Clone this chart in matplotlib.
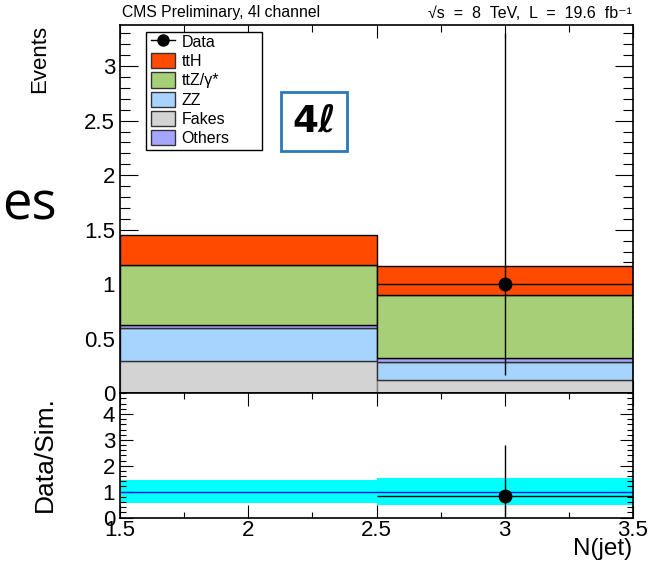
"""
Stacked N(jet) distribution for the 4l channel with Data/Sim. ratio panel
"""
import matplotlib
matplotlib.use('Agg')
import matplotlib.pyplot as plt
from matplotlib.patches import Patch, Rectangle
from matplotlib.lines import Line2D
from matplotlib.ticker import MultipleLocator
import numpy as np

plt.rcParams['font.family'] = ['Liberation Sans', 'DejaVu Sans']

# Bins in N(jet)
bin_lo = [1.5, 2.5]
bin_width = 1.0

# Stack contributions per bin (bottom to top)
fakes = [0.30, 0.12]
zz = [0.30, 0.17]
others = [0.03, 0.03]
ttz = [0.55, 0.58]
tth = [0.27, 0.27]

# Observed data
data_x = [3.0]
data_y = [1.0]
data_err_lo = [0.83]
data_err_hi = [2.30]

# Ratio panel
ratio_unc = [0.43, 0.52]
ratio_x = [3.0]
ratio_y = [0.85]
ratio_err_lo = [0.85]
ratio_err_hi = [1.95]

col_tth = '#ff4a00'
col_ttz = '#a6cf78'
col_zz = '#a6d4ff'
col_fakes = '#d3d3d3'
col_others = '#a6a6ff'

W, H = 664, 561
fig = plt.figure(figsize=(W / 100, H / 100), dpi=100)
ax1 = fig.add_axes([120 / W, 1 - 393.3 / H, 513 / W, 368.6 / H])
ax2 = fig.add_axes([120 / W, 1 - 517.5 / H, 513 / W, 124.2 / H])

# stacked histogram
bottom = np.zeros(len(bin_lo))
stack = [(fakes, col_fakes, '#808080'), (zz, col_zz, '#303030'),
         (others, col_others, '#303030'), (ttz, col_ttz, 'black'),
         (tth, col_tth, 'black')]
for vals, col, ec in stack:
    ax1.bar(bin_lo, vals, width=bin_width, bottom=bottom, align='edge',
            color=col, edgecolor=ec, linewidth=1.0, zorder=2)
    bottom = bottom + np.array(vals)

ax1.errorbar(data_x, data_y, yerr=[data_err_lo, data_err_hi], xerr=0.5,
             fmt='o', color='black', markersize=9, elinewidth=1.0,
             capsize=0, zorder=5, clip_on=True)

ax1.set_xlim(1.5, 3.5)
ax1.set_ylim(0, 3.38)
ax1.xaxis.set_major_locator(MultipleLocator(0.5))
ax1.xaxis.set_minor_locator(MultipleLocator(0.25))
ax1.yaxis.set_major_locator(MultipleLocator(0.5))
ax1.yaxis.set_minor_locator(MultipleLocator(0.1))
ax1.tick_params(axis='both', which='both', direction='in', top=True,
                right=True, width=0.8, labelsize=16)
ax1.tick_params(axis='y', which='major', length=13)
ax1.tick_params(axis='y', which='minor', length=7)
ax1.tick_params(axis='x', which='major', length=9.5)
ax1.tick_params(axis='x', which='minor', length=5)
ax1.tick_params(axis='x', labelbottom=False)
ax1.yaxis.set_major_formatter(plt.FuncFormatter(lambda v, p: f'{v:g}'))
for sp in ax1.spines.values():
    sp.set_linewidth(1.2)

# legend: frame drawn separately so it can be wider than the entries
ax1.add_patch(Rectangle((26 / 513, (393.3 - 150) / 368.6), 116 / 513,
                        118 / 368.6, transform=ax1.transAxes,
                        facecolor='white', edgecolor='black', lw=1.0,
                        zorder=6))
handles = [
    Line2D([0], [0], color='black', marker='o', markersize=8, lw=1.0),
    Patch(facecolor=col_tth, edgecolor='#333333'),
    Patch(facecolor=col_ttz, edgecolor='#333333'),
    Patch(facecolor=col_zz, edgecolor='#333333'),
    Patch(facecolor=col_fakes, edgecolor='#333333'),
    Patch(facecolor=col_others, edgecolor='#333333'),
]
labels = ['Data', 'ttH', 'ttZ/\u03b3*', 'ZZ', 'Fakes', 'Others']
leg = ax1.legend(handles, labels, loc='upper left',
                 bbox_to_anchor=(31 / 513, 1 - 9 / 368.6), fontsize=11.5,
                 frameon=False, handlelength=1.5, handleheight=1.1,
                 handletextpad=0.4, labelspacing=0.2, borderpad=0,
                 borderaxespad=0)
leg.set_zorder(7)

ax1.text((314 - 120) / 513, (393 - 121) / 368.6, '4\u2113',
         transform=ax1.transAxes, ha='center', va='center', fontsize=27,
         fontweight='bold', family=['DejaVu Sans'], zorder=7,
         bbox=dict(boxstyle='square,pad=0.3', facecolor='white',
                   edgecolor='#2b78b8', linewidth=2))

# ratio panel
for lo, u in zip(bin_lo, ratio_unc):
    ax2.bar(lo, 2 * u, width=bin_width, bottom=1 - u, align='edge',
            color='#00ffff', linewidth=0, zorder=1)
ax2.axhline(1.0, color='#1010ff', lw=1.0, zorder=2)
ax2.errorbar(ratio_x, ratio_y, yerr=[ratio_err_lo, ratio_err_hi], xerr=0.5,
             fmt='o', color='black', markersize=9, elinewidth=1.0,
             capsize=0, zorder=5)
ax2.set_xlim(1.5, 3.5)
ax2.set_ylim(0, 4.8)
ax2.xaxis.set_major_locator(MultipleLocator(0.5))
ax2.xaxis.set_minor_locator(MultipleLocator(0.25))
ax2.yaxis.set_major_locator(MultipleLocator(1))
ax2.yaxis.set_minor_locator(MultipleLocator(0.2))
ax2.tick_params(axis='both', which='both', direction='in', top=True,
                right=True, width=0.8, labelsize=16)
ax2.tick_params(axis='both', which='major', length=9.5)
ax2.tick_params(axis='both', which='minor', length=4.5)
ax2.tick_params(axis='x', pad=2)
ax2.xaxis.set_major_formatter(plt.FuncFormatter(lambda v, p: f'{v:g}'))
for sp in ax2.spines.values():
    sp.set_linewidth(1.2)

# titles and labels
fig.text(122 / W, 1 - 13 / H, 'CMS Preliminary, 4l channel', fontsize=11.3,
         va='center', ha='left')
fig.text(632 / W, 1 - 13 / H,
         '\u221as  =  8  TeV,  L  =  19.6  fb\u207b\u00b9',
         fontsize=11.5, va='center', ha='right')
fig.text(40 / W, 1 - 25 / H, 'Events', rotation=90, fontsize=16,
         ha='center', va='top')
fig.text(45 / W, 1 - 396 / H, 'Data/Sim.', rotation=90, fontsize=19,
         ha='center', va='top')
fig.text(632 / W, 1 - 560.5 / H, 'N(jet)', fontsize=17.5, ha='right',
         va='bottom')
fig.text(2 / W, 1 - 220 / H, 'es', fontsize=38, family=['Open Sans'],
         ha='left', va='baseline')

fig.savefig('out.png', dpi=100)
